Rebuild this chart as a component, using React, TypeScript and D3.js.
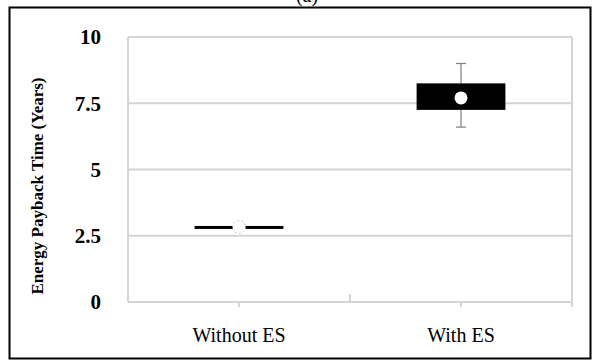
import React from "react";
import * as d3 from "d3";

// Energy payback time box summaries per configuration
const categories = ["Without ES", "With ES"];
const whiskerLow = [2.8, 6.6];
const quartile1 = [2.78, 7.25];
const quartile3 = [2.87, 8.25];
const whiskerHigh = [2.85, 9.0];
const meanValues = [2.83, 7.7];
const yTicks = [0, 2.5, 5, 7.5, 10];
const yTickLabels = ["0", "2.5", "5", "7.5", "10"];

const W = 592;
const H = 360;
const plot = { left: 128, right: 572, top: 37, bottom: 302 };
const serif = "'Liberation Serif', 'Times New Roman', serif";
const grid = "#d4d4d4";

export default function App() {
  const x = d3
    .scaleBand<string>()
    .domain(categories)
    .range([plot.left, plot.right])
    .padding(0);
  const y = d3.scaleLinear().domain([0, 10]).range([plot.bottom, plot.top]);
  const boxW = x.bandwidth() * 0.4;
  const capW = 10;
  const cx = (c: string) => (x(c) ?? 0) + x.bandwidth() / 2;

  return (
    <svg
      width={W}
      height={H}
      style={{ position: "absolute", left: 0, top: 0, background: "#fff" }}
    >
      {/* chart frame */}
      <rect x={9.5} y={7.5} width={581} height={351} fill="none" stroke="#000" strokeWidth={2} />
      <text x={307} y={2} textAnchor="middle" fontFamily={serif} fontSize={20}>
        (a)
      </text>

      {/* horizontal gridlines */}
      {yTicks.map((t) => (
        <line key={t} x1={plot.left} x2={plot.right} y1={y(t)} y2={y(t)} stroke={grid} strokeWidth={2} />
      ))}
      <line x1={plot.left} x2={plot.left} y1={plot.top} y2={plot.bottom} stroke={grid} strokeWidth={2} />
      <line x1={plot.right} x2={plot.right} y1={plot.top} y2={plot.bottom + 5} stroke={grid} strokeWidth={2} />
      {categories.map((c) => (
        <line key={c} x1={cx(c)} x2={cx(c)} y1={plot.bottom} y2={plot.bottom + 5} stroke={grid} strokeWidth={2} />
      ))}
      <line
        x1={(plot.left + plot.right) / 2}
        x2={(plot.left + plot.right) / 2}
        y1={plot.bottom - 8}
        y2={plot.bottom}
        stroke={grid}
        strokeWidth={2}
      />

      {/* y tick labels */}
      {yTicks.map((t, i) => (
        <text
          key={t}
          x={101}
          y={y(t)}
          dy="0.35em"
          textAnchor="end"
          fontFamily={serif}
          fontWeight="bold"
          fontSize={21}
        >
          {yTickLabels[i]}
        </text>
      ))}
      <text
        transform={`translate(37,186) rotate(-90)`}
        textAnchor="middle"
        dy="0.35em"
        fontFamily={serif}
        fontWeight="bold"
        fontSize={17}
      >
        Energy Payback Time (Years)
      </text>

      {/* category labels */}
      {categories.map((c) => (
        <text key={c} x={cx(c)} y={342} textAnchor="middle" fontFamily={serif} fontSize={20}>
          {c}
        </text>
      ))}

      {/* boxes, whiskers and means */}
      {categories.map((c, i) => {
        const mx = cx(c);
        const hasWhisker = whiskerHigh[i] - whiskerLow[i] > 0.2;
        return (
          <g key={c}>
            {hasWhisker && (
              <g stroke="#7f7f7f" strokeWidth={1.2}>
                <line x1={mx} x2={mx} y1={y(whiskerHigh[i])} y2={y(quartile3[i])} />
                <line x1={mx} x2={mx} y1={y(quartile1[i])} y2={y(whiskerLow[i])} />
                <line x1={mx - capW / 2} x2={mx + capW / 2} y1={y(whiskerHigh[i])} y2={y(whiskerHigh[i])} />
                <line x1={mx - capW / 2} x2={mx + capW / 2} y1={y(whiskerLow[i])} y2={y(whiskerLow[i])} />
              </g>
            )}
            <rect
              x={mx - boxW / 2}
              y={y(quartile3[i])}
              width={boxW}
              height={Math.max(3, y(quartile1[i]) - y(quartile3[i]))}
              fill="#000"
            />
            <circle
              cx={mx}
              cy={y(meanValues[i])}
              r={6.5}
              fill="#fff"
              stroke={hasWhisker ? "none" : "#bbb"}
              strokeDasharray="2 2"
              strokeWidth={0.8}
            />
          </g>
        );
      })}
    </svg>
  );
}
